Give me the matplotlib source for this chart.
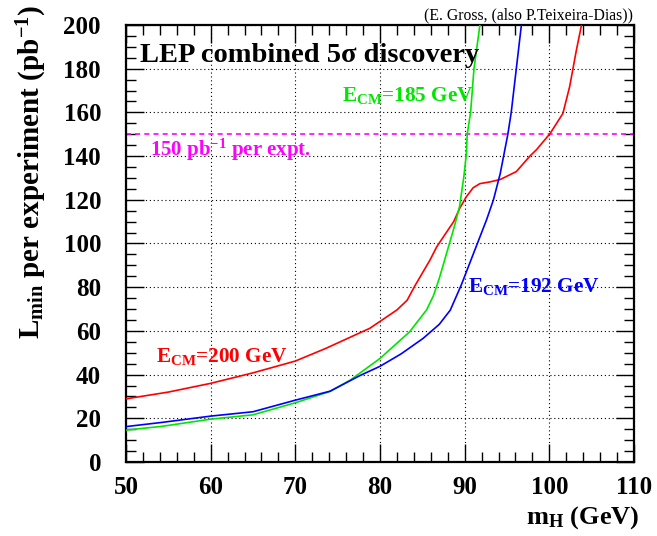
import matplotlib
matplotlib.use("Agg")
import matplotlib.pyplot as plt
from matplotlib.ticker import MultipleLocator

# ---- data ----
mh_200 = [50, 55, 60, 65, 70, 73.6, 78.8, 82.0, 83.2, 84.1, 85.9, 86.7, 88.0, 88.7, 89.4,
          90.2, 91.0, 91.8, 93.0, 94.2, 96.1, 97.7, 98.5, 100.1, 101.6, 102.4, 103.2, 103.8]
L_200 = [28.9, 32.0, 36.0, 40.8, 46.2, 52.0, 61.2, 69.6, 74.0, 80.5, 92.4, 98.5, 106.0, 110.0, 116.0,
         121.4, 125.5, 127.4, 128.2, 129.3, 132.9, 140.0, 143.0, 150.4, 159.5, 171.8, 188.6, 200.0]

mh_185 = [50, 54.2, 60, 65, 70, 74.1, 76.5, 80, 83.5, 85.5, 86.3, 87.0, 87.6, 88.2, 88.8,
          89.4, 89.9, 90.2, 90.3, 90.7, 91.1, 91.8]
L_185 = [14.6, 16.3, 19.6, 21.6, 27.1, 32.3, 37.5, 47.4, 59.6, 69.6, 76.0, 84.0, 92.0, 100.0, 108.0,
         117.0, 130.5, 141.0, 150.0, 160.0, 180.0, 200.0]

mh_192 = [50, 54.2, 60, 65, 70, 74.1, 77.6, 80, 82.5, 85.1, 87.0, 88.3, 89.6, 90.6, 91.8,
          92.6, 93.4, 94.2, 94.6, 95.1, 95.5, 96.1, 96.7]
L_192 = [16.2, 18.1, 21.0, 23.0, 28.3, 32.4, 39.5, 43.8, 49.5, 56.6, 63.0, 69.5, 81.0, 91.0, 103.0,
         111.0, 120.0, 132.0, 140.0, 150.0, 160.0, 180.0, 200.0]

lumi_line = 150
x_ticks = [50, 60, 70, 80, 90, 100, 110]
y_ticks = [0, 20, 40, 60, 80, 100, 120, 140, 160, 180, 200]

plt.rcParams['font.family'] = ['Liberation Serif', 'DejaVu Serif']
plt.rcParams['font.weight'] = 'bold'
plt.rcParams['mathtext.fontset'] = 'custom'
plt.rcParams['mathtext.rm'] = 'Liberation Serif:bold'
plt.rcParams['mathtext.bf'] = 'Liberation Serif:bold'
plt.rcParams['mathtext.it'] = 'Liberation Serif:bold'
plt.rcParams['mathtext.default'] = 'bf'

W, H = 657, 536
fig = plt.figure(figsize=(W / 100, H / 100), dpi=100)
ax = fig.add_axes([126 / W, 74 / H, 508 / W, 437 / H])

red, green, blue, mag = '#ff0000', '#00e600', '#0000ff', '#ff00ff'

ax.plot(mh_200, L_200, color=red, lw=1.2, zorder=3)
ax.plot(mh_185, L_185, color=green, lw=1.2, zorder=3)
ax.plot(mh_192, L_192, color=blue, lw=1.2, zorder=3)
ax.axhline(lumi_line, color=mag, lw=1.2, ls=(0, (3, 2.5)), zorder=2)

ax.set_xlim(50, 110)
ax.set_ylim(0, 200)
ax.set_xticks(x_ticks)
ax.set_yticks(y_ticks)
ax.xaxis.set_minor_locator(MultipleLocator(2))
ax.yaxis.set_minor_locator(MultipleLocator(5))
ax.grid(True, which='major', color='black', ls=(0, (1, 2.5)), lw=0.8)

ax.tick_params(which='both', direction='in', top=True, right=True, width=1.0)
ax.tick_params(which='major', length=13)
ax.tick_params(which='minor', length=7)
ax.tick_params(axis='x', which='major', labelsize=18, pad=10)
ax.tick_params(axis='y', which='major', labelsize=18, pad=18)
for lab in ax.get_xticklabels() + ax.get_yticklabels():
    lab.set_fontweight('bold')
for s in ax.spines.values():
    s.set_linewidth(1.6)

ax.text(51.65, 183, 'LEP combined 5σ discovery', fontsize=20.5, fontweight='bold',
        ha='left', va='baseline')
fig.text(633 / W, 1 - 15 / H, '(E. Gross, (also P.Teixeira-Dias))', fontsize=11.3,
         fontweight='normal', ha='right', va='center')
ax.text(75.5, 165, 'E$_{CM}$=185 GeV', color=green, fontsize=15.3, ha='left', va='baseline')
ax.text(90.4, 77.6, 'E$_{CM}$=192 GeV', color=blue, fontsize=15.3, ha='left', va='baseline')
ax.text(53.5, 45.9, 'E$_{CM}$=200 GeV', color=red, fontsize=15.3, ha='left', va='baseline')
ax.text(52.8, 140, '150 pb$^{-1}$ per expt.', color=mag, fontsize=15, ha='left', va='baseline')

fig.text(639 / W, 1 - 524 / H, 'm$_{H}$ (GeV)', fontsize=19, ha='right', va='baseline')
fig.text(32 / W, 1 - 5 / H, 'L$_{min}$ per experiment (pb$^{-1}$)', fontsize=21,
         rotation=90, ha='center', va='top')

fig.savefig('out.png', dpi=100)
